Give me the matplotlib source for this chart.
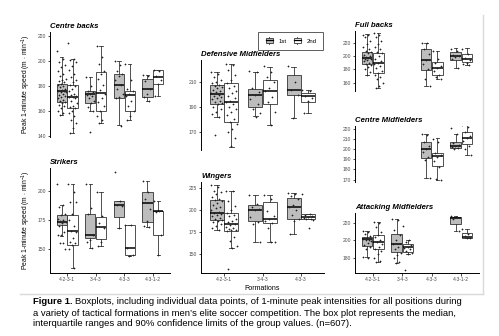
import numpy as np
import matplotlib.pyplot as plt
from matplotlib.lines import Line2D
from matplotlib.patches import Rectangle, Patch
from matplotlib.legend_handler import HandlerBase

plt.rcParams['font.family'] = ['Liberation Sans', 'DejaVu Sans']
plt.rcParams['mathtext.fontset'] = 'custom'
plt.rcParams['mathtext.rm'] = 'Liberation Sans'

FORMS4 = ['4-2-3-1', '3-4-3', '4-3-3', '4-3-1-2']
FORMS3 = ['4-2-3-1', '3-4-3', '4-3-3']

# box stats per formation: (lower limit, q1, median, q3, upper limit); None = no data
CB_1ST = [(157, 167, 176, 182, 203), (160, 166, 174, 176, 187), (149, 170, 181, 190, 200), (168, 171.5, 178, 186, 189)]
CB_2ND = [(142, 162, 171.5, 181, 202), (150, 160, 174.5, 191, 212), (153, 160, 173, 176, 198), (172, 182, 187.5, 193, 193)]
ST_1ST = [(161, 170.7, 173.6, 179.3, 188), (151, 160, 162, 180, 206), (168, 177.3, 187.8, 191.5, 191.5), (169, 173.6, 189.8, 199, 208)]
ST_2ND = [(134, 153.7, 165.6, 179.3, 206), (153, 158.5, 168.8, 177.3, 199), (144.3, 145.2, 151, 170.7, 170.7), (145, 162.2, 182.4, 183, 191)]
DM_1ST = [(181.6, 192.2, 200.5, 207.8, 218.6), (182.2, 189.7, 199.7, 204.3, 218.6), (180.8, 199.7, 203.8, 215.9, 222.7)]
DM_2ND = [(157.8, 177.6, 194.3, 209.2, 224.9), (175.4, 192.2, 203, 211.9, 222.7), (184.9, 193.8, 198.4, 201.6, 203.8)]
WI_1ST = [(177.4, 188.6, 196.9, 211.1, 228), (164.3, 187.5, 200.6, 205.5, 216.8), (172.5, 190.5, 203.6, 214.1, 219.4)]
WI_2ND = [(156.8, 176.6, 184.1, 196.9, 221.6), (164.3, 185.6, 190.5, 208.9, 216.8), (189.4, 189.4, 192.4, 196.1, 196.1)]
FB_1ST = [(171.5, 187.5, 196.5, 206.5, 232.5), None, (155, 179, 194, 210, 220), (181.5, 194, 200, 205.5, 211.5)]
FB_2ND = [(151.5, 174, 190, 205, 234), None, (166, 171.5, 182.5, 191.5, 207.5), (186.5, 190.5, 195, 202.5, 211.5)]
CM_1ST = [None, None, (172, 190.9, 199.8, 206.8, 215), (200.8, 200.8, 203.1, 206.8, 215)]
CM_2ND = [None, None, (170, 183.2, 193.2, 195.8, 210.7), (194.2, 205.1, 210.7, 217.4, 224.6)]
AM_1ST = [(181.1, 193.7, 201.5, 204.1, 210.7), (175.2, 187.4, 195.9, 207.8, 223.7), None, (210.7, 218.1, 225.6, 226.3, 227)]
AM_2ND = [(176.3, 190, 198.5, 205.9, 220.7), (184.8, 187.4, 193, 195.9, 201.1), None, (203.3, 203.3, 204.1, 208.5, 213.3)]

# individual peak values (m/min)
CB_PTS_1ST = [[208, 202, 199, 197, 195, 192, 190, 188, 186, 185, 184, 183, 182, 181, 180, 179, 178, 177, 176, 176,
               175, 175, 174, 173, 172, 171, 170, 169, 168, 167, 166, 165, 164, 162, 160, 158, 157],
              [187, 180, 176, 175, 174, 173, 172, 170, 168, 166, 163, 160, 143],
              [200, 197, 192, 190, 188, 185, 181, 178, 174, 171, 170, 148],
              [189, 188, 184, 178, 174, 171, 168]]
CB_PTS_2ND = [[215, 202, 201, 199, 196, 193, 190, 187, 185, 183, 181, 180, 178, 176, 174, 173, 172, 171, 171, 170,
               168, 166, 164, 163, 162, 160, 158, 156, 153, 150, 146, 142],
              [212, 203, 198, 192, 190, 186, 181, 177, 174, 170, 167, 164, 160, 156, 153, 150],
              [198, 185, 178, 176, 174, 172, 168, 164, 160, 156, 153],
              [193, 192, 188, 185, 182, 172]]
ST_PTS_1ST = [[206, 188, 186, 180, 179, 176, 175, 174, 173, 172, 170, 165, 162, 162, 155, 155, 150],
              [206, 185, 180, 162, 158, 156, 151],
              [216, 191, 188, 187, 168],
              [208, 199, 193, 184, 174, 170, 169]]
ST_PTS_2ND = [[206, 199, 190, 190, 180, 175, 170, 166, 165, 160, 156, 155, 154, 150, 134],
              [199, 178, 172, 168, 156, 153],
              [171, 171, 151, 145, 144],
              [191, 183, 182, 162, 145]]
DM_PTS_1ST = [[218, 217, 214, 212, 210, 209, 208, 207, 206, 205, 204, 203, 202, 201, 200, 199, 198, 197, 196, 195,
               194, 193, 192, 190, 188, 186, 184, 182, 167],
              [219, 218, 205, 202, 200, 196, 192, 188, 185, 182],
              [223, 210, 204, 200, 181]]
DM_PTS_2ND = [[225, 224, 220, 216, 212, 209, 207, 205, 203, 201, 199, 197, 195, 194, 192, 190, 188, 186, 183, 180,
               178, 176, 172, 170, 165, 158],
              [223, 218, 214, 210, 205, 203, 198, 194, 186, 175],
              [204, 203, 199, 197, 195, 185]]
WI_PTS_1ST = [[228, 226, 222, 220, 218, 215, 213, 211, 210, 208, 206, 204, 202, 200, 198, 197, 196, 195, 193, 191,
               190, 189, 188, 186, 184, 182, 180, 178],
              [217, 207, 204, 201, 200, 192, 186, 184, 164],
              [219, 218, 216, 212, 206, 203, 200, 194, 190, 188, 173]]
WI_PTS_2ND = [[222, 221, 210, 205, 200, 197, 195, 193, 190, 188, 186, 184, 183, 181, 180, 179, 178, 177, 176, 170,
               165, 160, 157, 134],
              [217, 212, 199, 193, 190, 188, 185, 180, 164, 164],
              [218, 196, 194, 193, 192, 191, 190, 190, 189, 180]]
FB_PTS_1ST = [[232, 231, 228, 222, 218, 214, 210, 208, 206, 204, 202, 200, 199, 198, 197, 196, 195, 194, 192, 190,
               188, 186, 184, 180, 176, 172],
              [],
              [220, 219, 210, 203, 194, 188, 180, 165, 155],
              [211, 208, 202, 200, 198, 195, 182]]
FB_PTS_2ND = [[234, 232, 228, 222, 218, 214, 210, 206, 204, 200, 196, 192, 190, 188, 185, 182, 178, 175, 172, 168,
               165, 160, 155, 152],
              [],
              [207, 195, 190, 185, 182, 178, 172, 168, 166],
              [211, 203, 197, 194, 190, 188, 187]]
CM_PTS_1ST = [[], [], [215, 214, 207, 203, 200, 197, 192, 189, 172], [221, 215, 206, 204, 203, 202, 201, 200]]
CM_PTS_2ND = [[], [], [210, 207, 196, 194, 192, 188, 182, 171, 170], [224, 222, 217, 213, 211, 208, 203, 200, 194]]
AM_PTS_1ST = [[211, 210, 207, 205, 203, 202, 201, 200, 199, 197, 195, 193, 190, 182, 181],
              [224, 223, 212, 206, 200, 196, 193, 190, 186, 184, 180, 176, 175],
              [],
              [227, 226, 224, 211]]
AM_PTS_2ND = [[221, 220, 215, 210, 206, 204, 200, 198, 196, 193, 190, 188, 185, 180, 177, 176],
              [216, 201, 198, 195, 193, 192, 190, 188, 186, 185, 167],
              [],
              [213, 207, 205, 203, 203]]

FILL_1ST = '#bdbdbd'
FILL_2ND = 'white'
W, H = 499, 336


def px_axes(fig, left, top, right, bottom):
    return fig.add_axes([left / W, 1 - bottom / H, (right - left) / W, (bottom - top) / H])


def draw_panel(ax, forms, st1, st2, p1, p2, ylim, yticks, title, xaxis):
    for stats, pts, off, fc in ((st1, p1, -0.19, FILL_1ST), (st2, p2, 0.19, FILL_2ND)):
        for i, s in enumerate(stats):
            if s is None:
                continue
            pos = i + 1 + off
            ax.bxp([dict(whislo=s[0], q1=s[1], med=s[2], q3=s[3], whishi=s[4], fliers=[])],
                   positions=[pos], widths=0.36, capwidths=0.12, patch_artist=True,
                   showfliers=False,
                   boxprops=dict(facecolor=fc, edgecolor='#333333', linewidth=0.6),
                   medianprops=dict(color='black', linewidth=1.1),
                   whiskerprops=dict(color='#333333', linewidth=0.6),
                   capprops=dict(color='#333333', linewidth=0.6))
            vals = np.array(pts[i], dtype=float)
            jit = ((np.arange(len(vals)) * 0.618034) % 1.0 - 0.5) * 0.3
            ax.plot(pos + jit, vals, '+', ms=1.7, mew=0.5, color='#222222', zorder=5)

    ax.set_xlim(0.4, len(forms) + 0.6)
    ax.set_ylim(*ylim)
    ax.set_yticks(yticks)
    for sp in ('top', 'right'):
        ax.spines[sp].set_visible(False)
    ax.spines['left'].set_linewidth(0.7)
    ax.spines['bottom'].set_linewidth(0.7)
    ax.tick_params(length=1.8, width=0.5, labelsize=3.6, labelcolor='#4d4d4d', pad=1)
    if xaxis:
        ax.set_xticks(range(1, len(forms) + 1))
        ax.set_xticklabels(forms)
    else:
        ax.spines['bottom'].set_visible(False)
        ax.set_xticks([])
    ax.set_title(title, loc='left', fontsize=5.6, fontweight='bold', fontstyle='italic', pad=3)


fig = plt.figure(figsize=(4.99, 3.36), dpi=100)

ax = px_axes(fig, 50, 32, 170, 137)
draw_panel(ax, FORMS4, CB_1ST, CB_2ND, CB_PTS_1ST, CB_PTS_2ND, (139, 223.5), [140, 160, 180, 200, 220], 'Centre backs', False)
ylab = r'Peak 1-minute speed (m $\cdot$ min$^{-1}$)'
ax.set_ylabel(ylab, fontsize=4.9, labelpad=3)

ax = px_axes(fig, 50, 168, 170, 273)
draw_panel(ax, FORMS4, ST_1ST, ST_2ND, ST_PTS_1ST, ST_PTS_2ND, (129.8, 219.3), [150, 175, 200], 'Strikers', True)
ax.set_ylabel(ylab, fontsize=4.9, labelpad=3)

ax = px_axes(fig, 201, 60, 324, 150)
draw_panel(ax, FORMS3, DM_1ST, DM_2ND, DM_PTS_1ST, DM_PTS_2ND, (155, 228), [170, 190, 210], 'Defensive Midfielders', False)

ax = px_axes(fig, 201, 182, 324, 273)
draw_panel(ax, FORMS3, WI_1ST, WI_2ND, WI_PTS_1ST, WI_PTS_2ND, (129, 231.7), [150, 175, 200, 225], 'Wingers', True)
ax.set_xlabel('Formations', fontsize=5, labelpad=2)

ax = px_axes(fig, 355, 31, 479, 91)
draw_panel(ax, FORMS4, FB_1ST, FB_2ND, FB_PTS_1ST, FB_PTS_2ND, (147.5, 237.5), [160, 180, 200, 220], 'Full backs', False)

ax = px_axes(fig, 355, 126, 479, 182)
draw_panel(ax, FORMS4, CM_1ST, CM_2ND, CM_PTS_1ST, CM_PTS_2ND, (167.6, 223), [170, 180, 190, 200, 210, 220], 'Centre Midfielders', False)

ax = px_axes(fig, 355, 213, 479, 273)
draw_panel(ax, FORMS4, AM_1ST, AM_2ND, AM_PTS_1ST, AM_PTS_2ND, (163.7, 230.7), [180, 200, 220], 'Attacking Midfielders', True)


class BoxHandler(HandlerBase):
    def create_artists(self, legend, orig, xd, yd, width, height, fontsize, trans):
        x0, y0 = -xd, -yd
        fc = orig.get_facecolor()
        rect = Rectangle((x0 + width * 0.15, y0), width * 0.7, height, facecolor=fc,
                         edgecolor='#333333', lw=0.6, transform=trans)
        vline = Line2D([x0 + width / 2] * 2, [y0 - height * 0.25, y0 + height * 1.25],
                       color='#333333', lw=0.6, transform=trans)
        hline = Line2D([x0 + width * 0.15, x0 + width * 0.85], [y0 + height / 2] * 2,
                       color='black', lw=0.9, transform=trans)
        return [vline, rect, hline]


handles = [Patch(facecolor=FILL_1ST), Patch(facecolor=FILL_2ND)]
leg = fig.legend(handles, ['1st', '2nd'], handler_map={Patch: BoxHandler()},
                 loc='center', bbox_to_anchor=(290.5 / W, 1 - 41 / H), ncol=2,
                 fontsize=4.3, frameon=True, fancybox=False, handlelength=1.7,
                 handletextpad=0.7, columnspacing=0.9, borderpad=1.0)
leg.get_frame().set_edgecolor('#333333')
leg.get_frame().set_linewidth(0.7)

# light frame around the figure panel
fig.add_artist(Line2D([483 / W, 483 / W], [1 - 15 / H, 1 - 294 / H], color='#d9d9d9', lw=1))
fig.add_artist(Line2D([20 / W, 483 / W], [1 - 294 / H, 1 - 294 / H], color='#d9d9d9', lw=1))

# caption
cap_fs = 6.8
x0 = 33 / W
t = fig.text(x0, 1 - 302 / H, 'Figure 1.', fontsize=cap_fs, fontweight='bold', va='center')
bb = t.get_window_extent(renderer=fig.canvas.get_renderer())
fig.text(bb.x1 / W + 2 / W, 1 - 302 / H,
         'Boxplots, including individual data points, of 1-minute peak intensities for all positions during',
         fontsize=cap_fs, va='center')
fig.text(x0, 1 - 313 / H,
         'a variety of tactical formations in men\u2019s elite soccer competition. The box plot represents the median,',
         fontsize=cap_fs, va='center')
fig.text(x0, 1 - 324 / H,
         'interquartile ranges and 90% confidence limits of the group values. (n=607).',
         fontsize=cap_fs, va='center')

fig.savefig('out.png', dpi=100)
